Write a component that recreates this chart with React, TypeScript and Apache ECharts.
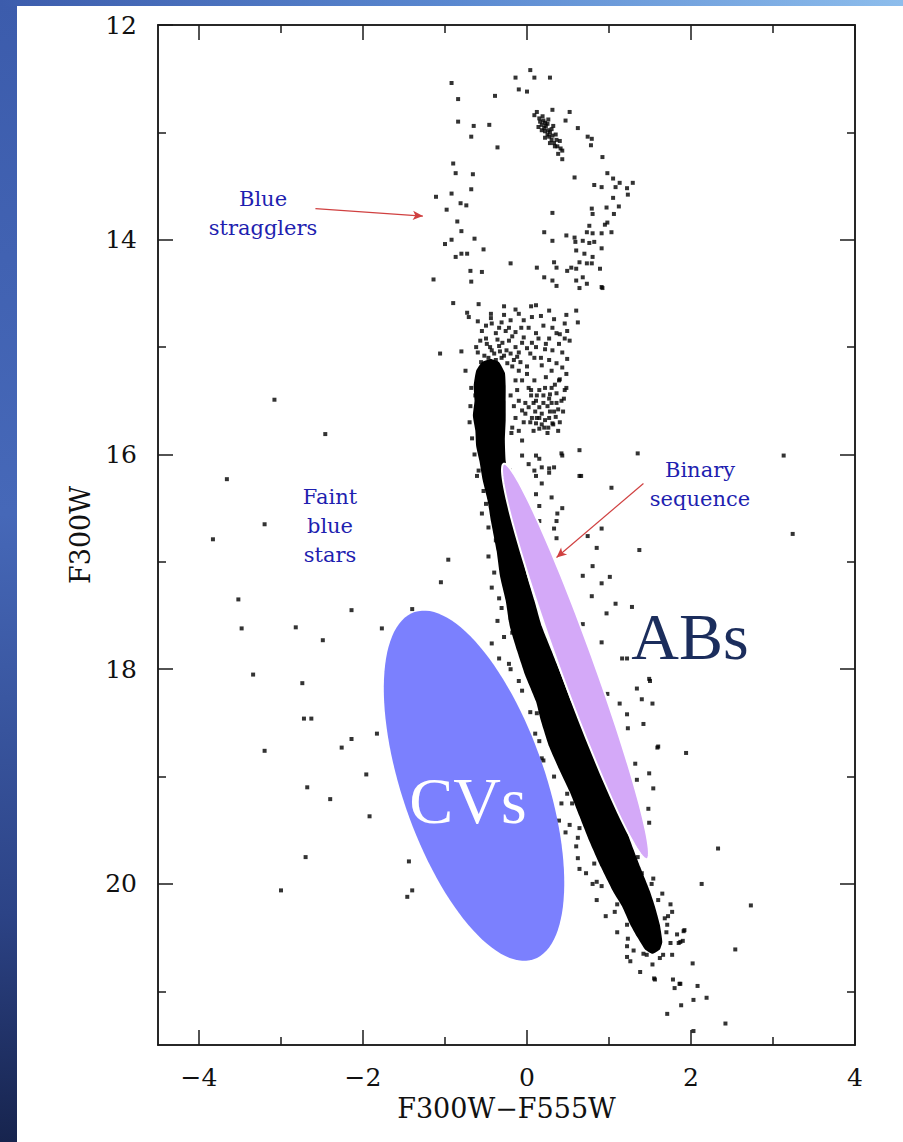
import { useEffect, useRef } from 'react';
import * as echarts from 'echarts';

const X_MIN = -4.5;
const X_MAX = 4;
const Y_MIN = 12;
const Y_MAX = 21.5;
const xMajorTicks = [-4, -2, 0, 2, 4];
const xMinorTicks = [-3, -1, 1, 3];
const yMajorTicks = [12, 14, 16, 18, 20];
const yMinorTicks = [13, 15, 17, 19, 21];

// Dense main-sequence band outline (colour, magnitude)
const bandOutline = [
  [-0.55, 15.14], [-0.44, 15.11], [-0.34, 15.14], [-0.27, 15.24], [-0.26, 15.36], [-0.26, 15.5],
  [-0.26, 15.68], [-0.27, 15.87], [-0.26, 16.06], [-0.22, 16.24], [-0.17, 16.43], [-0.12, 16.66],
  [-0.07, 16.9], [0.0, 17.13], [0.09, 17.36], [0.18, 17.6], [0.3, 17.83], [0.42, 18.06],
  [0.54, 18.3], [0.64, 18.48], [0.76, 18.72], [0.91, 18.93], [1.05, 19.14], [1.16, 19.37],
  [1.26, 19.6], [1.38, 19.84], [1.5, 20.07], [1.56, 20.21], [1.62, 20.38], [1.65, 20.54],
  [1.62, 20.61], [1.53, 20.65], [1.44, 20.61], [1.34, 20.49], [1.26, 20.38], [1.16, 20.21],
  [1.05, 20.07], [0.9, 19.84], [0.76, 19.6], [0.64, 19.37], [0.52, 19.14], [0.39, 18.93],
  [0.27, 18.72], [0.17, 18.48], [0.11, 18.3], [-0.02, 18.06], [-0.12, 17.83], [-0.21, 17.6],
  [-0.26, 17.36], [-0.33, 17.13], [-0.37, 16.9], [-0.44, 16.62], [-0.48, 16.43], [-0.54, 16.24],
  [-0.58, 16.06], [-0.62, 15.92], [-0.63, 15.78], [-0.66, 15.64], [-0.64, 15.5], [-0.65, 15.36],
  [-0.62, 15.22],
];

const blueStragglers = [
  [-0.92, 12.54], [-0.84, 12.69], [-0.39, 12.66], [-0.84, 12.9], [-0.65, 12.94], [-0.46, 12.93],
  [-0.68, 13.04], [-0.36, 13.14], [-0.9, 13.29], [-0.87, 13.38], [-0.66, 13.39], [-0.68, 13.53],
  [-0.92, 13.57], [-1.11, 13.6], [-0.81, 13.66], [-0.74, 13.68], [-0.98, 13.72], [-0.85, 13.83],
  [-0.8, 13.92], [-0.64, 13.99], [-0.92, 14.0], [-1.0, 14.04], [-0.53, 14.09], [-0.8, 14.13],
  [-0.73, 14.13], [-0.87, 14.16], [-0.69, 14.29], [-0.55, 14.3], [-1.14, 14.37], [-0.68, 14.39],
  [-0.2, 14.22],
];

const giantPoints = [
  [0.04, 12.42], [-0.14, 12.49], [0.09, 12.49], [0.28, 12.49], [-0.1, 12.6], [0.0, 12.62],
  [0.12, 12.81], [0.09, 12.84], [0.31, 12.79], [0.16, 12.9], [0.18, 12.93], [0.21, 12.96],
  [0.22, 12.99], [0.25, 13.02], [0.27, 13.04], [0.3, 13.07], [0.33, 13.1], [0.37, 13.13],
  [0.41, 13.15], [0.26, 12.98], [0.31, 13.03], [0.2, 12.89], [0.36, 13.07], [0.23, 12.94],
  [0.15, 12.87], [0.34, 13.13], [0.43, 13.17], [0.28, 13.0], [0.22, 12.91], [0.18, 12.98],
  [0.25, 12.92], [0.14, 12.95], [0.3, 12.97], [0.35, 13.02], [0.22, 13.05], [0.4, 13.08],
  [0.28, 13.1], [0.38, 13.2], [0.19, 12.85], [0.26, 12.88], [0.32, 12.94], [0.47, 12.89],
  [0.52, 12.81], [0.62, 12.96], [0.74, 13.04], [0.79, 13.06], [0.78, 13.12], [0.43, 13.25],
  [0.92, 13.23], [0.58, 13.42], [0.98, 13.38], [1.05, 13.43], [1.13, 13.47], [1.29, 13.47],
  [1.22, 13.52], [1.08, 13.51], [0.91, 13.51], [0.82, 13.49], [1.05, 13.61], [1.23, 13.58],
  [1.12, 13.69], [0.97, 13.7], [0.79, 13.71], [0.8, 13.76], [1.06, 13.76], [0.98, 13.84],
  [0.95, 13.86], [0.76, 13.87], [0.73, 13.93], [0.8, 13.94], [0.91, 13.94], [1.03, 13.93],
  [0.68, 14.01], [0.76, 14.03], [0.82, 14.02], [0.91, 14.08], [0.6, 14.1], [0.7, 14.13],
  [0.8, 14.16], [0.64, 14.21], [0.73, 14.22], [0.54, 14.26], [0.49, 14.29], [0.6, 14.27],
  [0.79, 14.22], [0.89, 14.27], [0.36, 14.26], [0.33, 14.21], [0.31, 14.01], [0.21, 13.93],
  [0.48, 13.96], [0.58, 13.98], [0.59, 14.02], [0.31, 13.75], [0.12, 14.26], [0.21, 14.35],
  [0.31, 14.38], [0.36, 14.43], [0.6, 14.38], [0.68, 14.35], [0.64, 14.45], [0.73, 14.41],
  [0.91, 14.44], [0.92, 14.45],
];

const turnoffPoints = [
  [-0.9, 14.59], [-0.59, 14.6], [-0.73, 14.68], [-0.71, 14.72], [-0.44, 14.69], [-0.44, 14.73],
  [-0.28, 14.62], [-0.14, 14.65], [-0.1, 14.69], [0.05, 14.62], [0.11, 14.61], [0.27, 14.66],
  [0.17, 14.71], [0.48, 14.7], [0.6, 14.66], [0.62, 14.77], [0.33, 14.74], [0.31, 14.82],
  [0.46, 14.78], [0.49, 14.85], [0.36, 14.87], [0.27, 14.92], [0.46, 14.92], [0.52, 14.94],
  [0.39, 14.97], [0.23, 14.97], [0.31, 15.03], [0.43, 15.05], [0.49, 15.11], [0.27, 15.12],
  [0.36, 15.15], [0.43, 15.19], [0.48, 15.25], [0.3, 15.22], [0.23, 15.28], [0.39, 15.31],
  [0.48, 15.38], [0.3, 15.38], [0.36, 15.43], [0.42, 15.5], [0.27, 15.48], [0.15, 15.4],
  [0.09, 15.31], [0.0, 15.25], [-0.06, 15.31], [0.02, 15.38], [0.11, 15.5], [0.15, 15.56],
  [0.02, 15.56], [-0.06, 15.59], [-0.1, 15.5], [-0.14, 15.66], [0.06, 15.66], [0.15, 15.66],
  [0.27, 15.66], [0.31, 15.71], [0.21, 15.75], [0.15, 15.76], [0.11, 15.71], [-0.04, 15.7],
  [-0.1, 15.78], [-0.18, 15.75], [-0.06, 15.87], [0.11, 16.01], [0.43, 16.01], [0.64, 15.96],
  [0.18, 16.12], [0.27, 16.17], [0.09, 16.15], [0.64, 16.2], [-0.8, 15.04], [-0.75, 15.22],
  [-0.68, 15.38], [-0.63, 15.45], [-0.49, 14.97], [-0.43, 15.03], [-0.34, 14.99], [-0.25, 15.03],
  [-0.31, 15.1], [-0.16, 15.12], [-0.47, 15.1], [-0.38, 15.12], [-0.1, 15.05], [-0.22, 14.94],
  [-0.14, 14.86], [-0.07, 14.82], [-0.26, 14.85], [-0.38, 14.87], [-0.43, 14.78], [-0.57, 14.94],
  [-0.55, 14.85], [-0.31, 14.77], [-0.2, 14.75], [-0.04, 14.75], [0.06, 14.72], [0.02, 14.82],
  [0.11, 14.87], [-0.04, 14.91], [-0.14, 15.0], [0.0, 15.01], [0.09, 15.1], [0.11, 15.0],
  [0.17, 15.1], [0.18, 15.17], [-0.1, 15.22], [-0.14, 15.31], [0.2, 15.45], [0.25, 15.55],
  [0.33, 15.6], [0.05, 15.45], [0.18, 15.62], [0.38, 15.58], [0.3, 15.52], [0.22, 15.68],
  [-0.02, 15.62], [0.35, 15.65], [0.1, 15.6], [0.4, 15.7], [0.08, 15.78], [0.25, 15.8],
  [-0.6, 15.05], [-0.52, 15.08], [-0.45, 15.0], [-0.4, 15.06], [-0.33, 15.04], [-0.28, 15.08],
  [-0.2, 15.06], [-0.12, 15.09], [-0.56, 15.14], [-0.24, 15.15], [-0.18, 15.18], [-0.62, 15.0],
  [-0.5, 14.92], [-0.36, 14.93], [-0.3, 14.96], [-0.18, 14.9], [-0.06, 14.96], [0.04, 15.06],
  [0.06, 14.96], [-0.08, 15.14], [0.0, 15.18], [-0.5, 14.8], [-0.34, 14.82], [-0.22, 14.82],
  [-0.6, 14.76], [-0.28, 14.7], [0.2, 14.8], [0.14, 14.92], [0.22, 15.02], [0.4, 14.88],
  [0.05, 15.4], [0.12, 15.45], [0.22, 15.38], [0.28, 15.44], [0.36, 15.52], [0.44, 15.6],
  [0.46, 15.4], [0.4, 15.3], [0.34, 15.35], [0.2, 15.52], [0.28, 15.6], [0.32, 15.72],
  [0.38, 15.78], [0.18, 15.72], [0.04, 15.7], [-0.02, 15.52], [0.26, 15.75], [0.45, 15.48],
  [0.12, 15.66], [0.08, 15.52], [-0.12, 15.4], [-0.16, 15.55],
];

const binaryPoints = [
  [-0.06, 16.01], [0.02, 16.09], [0.15, 16.04], [0.27, 16.13], [0.33, 16.12], [0.11, 16.2],
  [0.18, 16.27], [0.11, 16.37], [0.3, 16.4], [0.43, 16.5], [0.37, 16.55], [0.15, 16.48],
  [0.36, 16.62], [0.15, 16.62], [0.33, 16.69], [0.36, 16.78], [0.42, 15.99], [0.66, 16.2],
  [1.03, 16.31], [0.91, 16.69], [0.74, 16.76], [0.85, 16.87], [0.8, 17.04], [0.68, 17.13],
  [0.79, 17.32], [0.68, 17.58], [0.98, 18.23], [1.13, 18.32], [1.34, 18.18], [1.5, 18.11],
  [1.4, 18.28], [1.53, 18.32], [1.22, 18.42], [1.42, 18.51], [1.23, 18.55], [1.6, 18.72],
  [1.35, 15.99], [1.37, 16.89], [1.01, 17.14], [0.91, 17.2], [1.08, 17.39], [1.28, 17.42],
  [0.97, 17.48], [0.91, 17.75], [1.16, 17.9], [1.22, 17.9], [1.49, 18.09],
];

const bandEdgePoints = [
  [-0.43, 17.24], [-0.34, 17.34], [-0.31, 17.43], [-0.43, 17.76], [-0.34, 17.9], [-0.2, 18.0],
  [-0.1, 18.11], [0.12, 18.41], [0.15, 18.67], [-0.5, 16.46], [-0.47, 16.68], [-0.38, 16.8],
  [-0.53, 16.34], [-0.59, 16.15], [-0.18, 17.66], [-0.2, 17.52], [0.18, 18.83], [0.49, 19.16],
  [0.55, 19.25], [0.39, 19.41], [0.47, 19.52], [0.64, 19.48], [0.62, 19.57], [0.62, 19.76],
  [0.64, 19.86], [0.82, 19.81], [0.85, 19.98], [0.8, 20.0], [0.91, 20.02],
  [-0.69, 15.55], [-0.7, 15.7], [-0.67, 15.85], [-0.64, 16.0], [-0.61, 16.2], [-0.55, 16.55],
  [-0.47, 16.95], [-0.4, 17.1], [-0.36, 17.55], [-0.28, 17.7], [-0.22, 17.95], [-0.06, 18.2],
  [0.04, 18.4], [0.1, 18.6], [0.2, 18.85], [0.33, 19.0], [0.42, 19.25], [0.52, 19.45],
  [0.6, 19.65], [0.72, 19.9], [0.85, 20.15], [0.96, 20.3], [1.1, 20.45], [1.22, 20.58],
  [1.3, 20.62], [1.4, 19.9], [1.52, 20.0], [1.6, 20.15], [1.68, 20.32], [1.7, 20.45],
  [1.35, 19.75], [1.3, 19.55], [1.2, 19.4], [-0.2, 15.45], [-0.19, 15.8], [-0.21, 16.15],
];

const lowerPoints = [
  [1.59, 18.73], [1.32, 18.88], [1.49, 18.97], [1.34, 19.03], [1.54, 19.11], [1.48, 19.3],
  [1.49, 19.43], [1.54, 19.95], [1.65, 20.09], [1.75, 20.19], [1.77, 20.26], [1.1, 20.19],
  [1.07, 20.26], [1.22, 20.38], [1.23, 20.51], [1.38, 20.46], [1.46, 20.66], [1.78, 20.89],
  [1.88, 21.13], [1.71, 21.21], [1.56, 20.89], [1.38, 20.82], [1.53, 20.75], [1.22, 20.68],
  [1.26, 20.72], [1.42, 20.65], [1.66, 20.66], [1.77, 20.66], [1.59, 20.56], [1.75, 20.55],
  [1.85, 20.55], [1.91, 20.44], [1.83, 20.47], [1.71, 20.38], [1.72, 20.3], [1.6, 20.46],
  [1.5, 20.26], [1.46, 20.32], [1.8, 20.97], [1.86, 20.93], [1.55, 20.88], [1.62, 20.69],
  [1.87, 20.54], [1.92, 20.43], [1.9, 20.53], [2.02, 20.74], [1.87, 20.93], [2.08, 20.95],
  [2.03, 21.08], [2.19, 21.06], [2.03, 21.37],
];

const fieldPoints = [
  [1.94, 18.78], [2.33, 19.67], [2.13, 20.0], [2.73, 20.2], [2.54, 20.61], [2.42, 21.3],
  [3.13, 16.01], [3.24, 16.74],
];

const faintBluePoints = [
  [-3.08, 15.49], [-2.46, 15.81], [-3.66, 16.23], [-3.2, 16.65], [-3.83, 16.79], [-0.96, 16.98],
  [-1.05, 17.19], [-3.52, 17.35], [-2.14, 17.45], [-1.4, 17.44], [-3.48, 17.62], [-2.82, 17.61],
  [-2.49, 17.73], [-1.77, 17.62], [-3.34, 18.05], [-2.74, 18.13], [-2.72, 18.46], [-2.63, 18.46],
  [-1.83, 18.6], [-2.14, 18.65], [-2.26, 18.73], [-3.2, 18.76], [-1.96, 18.98], [-2.68, 19.1],
  [-2.4, 19.21], [-1.92, 19.37], [-2.7, 19.75], [-1.44, 19.79], [-3.0, 20.06], [-1.4, 20.06],
  [-1.46, 20.12], [-1.06, 15.06],
];

// CVs and ABs regions: centre, semi-major vector, semi-minor vector (data units)
const cvRegion = [-0.646, 19.085, 0.726, 1.617, 0.827, -0.214];
const abRegion = [0.591, 17.928, 0.874, 1.842, 0.197, -0.054];

const arrowBlueStragglers = [[-2.58, 13.71], [-1.27, 13.78]];
const arrowBinary = [[1.42, 16.27], [0.36, 16.96]];

const FONT = '"DejaVu Serif", serif';

function xAxisCfg(position: string, values: number[], len: number, labels: boolean) {
  return {
    type: 'value',
    min: X_MIN,
    max: X_MAX,
    position,
    axisLine: { show: true, onZero: false, lineStyle: { color: '#1a1a1a', width: 1.5 } },
    axisTick: { show: true, inside: true, length: len, customValues: values, lineStyle: { color: '#1a1a1a', width: 1.5 } },
    axisLabel: {
      show: labels,
      customValues: values,
      margin: 20,
      color: '#111',
      fontFamily: FONT,
      fontSize: 25,
      formatter: (v: number) => String(v).replace('-', '\u2212'),
    },
    splitLine: { show: false },
  };
}

function yAxisCfg(position: string, values: number[], len: number, labels: boolean) {
  return {
    type: 'value',
    min: Y_MIN,
    max: Y_MAX,
    inverse: true,
    position,
    axisLine: { show: true, onZero: false, lineStyle: { color: '#1a1a1a', width: 1.5 } },
    axisTick: { show: true, inside: true, length: len, customValues: values, lineStyle: { color: '#1a1a1a', width: 1.5 } },
    axisLabel: {
      show: labels,
      customValues: values,
      margin: 21,
      color: '#111',
      fontFamily: FONT,
      fontSize: 25,
    },
    splitLine: { show: false },
  };
}

function ellipseRenderer(fill: string, stroke: string, lw: number) {
  return (_params: any, api: any) => {
    const cx = api.value(0), cy = api.value(1);
    const ux = api.value(2), uy = api.value(3);
    const vx = api.value(4), vy = api.value(5);
    const pts: number[][] = [];
    for (let k = 0; k < 120; k++) {
      const t = (k / 120) * Math.PI * 2;
      pts.push(api.coord([cx + ux * Math.cos(t) + vx * Math.sin(t), cy + uy * Math.cos(t) + vy * Math.sin(t)]));
    }
    return { type: 'polygon', shape: { points: pts }, style: { fill, stroke, lineWidth: lw } };
  };
}

export default function App() {
  const ref = useRef<HTMLDivElement>(null);
  useEffect(() => {
    if (!ref.current) return;
    const chart = echarts.init(ref.current, null, { renderer: 'svg' });
    const blueText = (text: string, x: number, y: number) => ({
      type: 'text',
      x,
      y,
      z: 100,
      style: {
        text,
        fill: '#1f1fb0',
        font: '21px ' + FONT,
        textAlign: 'center',
        textVerticalAlign: 'middle',
        lineHeight: 29,
      },
    });
    const allPoints = [
      ...blueStragglers, ...giantPoints, ...turnoffPoints, ...binaryPoints,
      ...bandEdgePoints, ...lowerPoints, ...fieldPoints, ...faintBluePoints,
    ];
    chart.setOption({
      animation: false,
      backgroundColor: '#ffffff',
      grid: { left: 158, right: 48, top: 25, bottom: 97, containLabel: false },
      xAxis: [
        { ...xAxisCfg('bottom', xMajorTicks, 15, true), name: 'F300W\u2212F555W', nameLocation: 'middle', nameGap: 48, nameTextStyle: { fontFamily: FONT, fontSize: 27, color: '#111' } },
        xAxisCfg('bottom', xMinorTicks, 8, false),
        xAxisCfg('top', xMajorTicks, 15, false),
        xAxisCfg('top', xMinorTicks, 8, false),
      ],
      yAxis: [
        { ...yAxisCfg('left', yMajorTicks, 15, true), name: 'F300W', nameLocation: 'middle', nameGap: 64, nameTextStyle: { fontFamily: FONT, fontSize: 27, color: '#111' } },
        yAxisCfg('left', yMinorTicks, 8, false),
        yAxisCfg('right', yMajorTicks, 15, false),
        yAxisCfg('right', yMinorTicks, 8, false),
      ],
      series: [
        {
          type: 'custom',
          name: 'band',
          z: 2,
          data: [bandOutline[0]],
          encode: { x: 0, y: 1 },
          renderItem: (_p: any, api: any) => ({
            type: 'polygon',
            shape: { points: bandOutline.map((p) => api.coord(p)), smooth: 0.15 },
            style: { fill: '#000000' },
          }),
        },
        {
          type: 'scatter',
          name: 'stars',
          z: 3,
          symbol: 'rect',
          symbolSize: 4,
          itemStyle: { color: '#000000' },
          data: allPoints,
          markLine: {
            silent: true,
            symbol: ['none', 'arrow'],
            symbolSize: [7, 10],
            label: { show: false },
            lineStyle: { color: '#d04040', width: 1.2, type: 'solid' },
            data: [
              [{ coord: arrowBlueStragglers[0] }, { coord: arrowBlueStragglers[1] }],
              [{ coord: arrowBinary[0] }, { coord: arrowBinary[1] }],
            ],
          },
        },
        {
          type: 'custom',
          name: 'CVs',
          z: 5,
          data: [cvRegion],
          encode: { x: 0, y: 1 },
          renderItem: ellipseRenderer('#7b80fe', 'none', 0),
        },
        {
          type: 'custom',
          name: 'ABs',
          z: 5,
          data: [abRegion],
          encode: { x: 0, y: 1 },
          renderItem: ellipseRenderer('#d4a9f8', '#ffffff', 2),
        },
      ],
      graphic: [
        {
          type: 'rect',
          z: -10,
          shape: { x: 0, y: 0, width: 17, height: 1142 },
          style: {
            fill: new echarts.graphic.LinearGradient(0, 0, 0, 1, [
              { offset: 0, color: '#3c5cac' },
              { offset: 0.45, color: '#4668b8' },
              { offset: 0.8, color: '#2c4386' },
              { offset: 1, color: '#17244e' },
            ]),
          },
        },
        {
          type: 'rect',
          z: -10,
          shape: { x: 0, y: 0, width: 903, height: 6 },
          style: {
            fill: new echarts.graphic.LinearGradient(0, 0, 1, 0, [
              { offset: 0, color: '#3c5cac' },
              { offset: 0.5, color: '#5a88d0' },
              { offset: 1, color: '#8dbdec' },
            ]),
          },
        },
        blueText('Blue\nstragglers', 263, 213),
        blueText('Faint\nblue\nstars', 330, 526),
        blueText('Binary\nsequence', 700, 484),
        {
          type: 'text',
          x: 468,
          y: 800,
          z: 100,
          style: { text: 'CVs', fill: '#ffffff', font: '66px "Liberation Serif", serif', textAlign: 'center', textVerticalAlign: 'middle' },
        },
        {
          type: 'text',
          x: 690,
          y: 636,
          z: 100,
          style: { text: 'ABs', fill: '#1b2d5c', font: '66px "Liberation Serif", serif', textAlign: 'center', textVerticalAlign: 'middle' },
        },
      ],
    });
    return () => chart.dispose();
  }, []);
  return <div ref={ref} style={{ position: 'absolute', left: 0, top: 0, width: 903, height: 1142 }} />;
}
